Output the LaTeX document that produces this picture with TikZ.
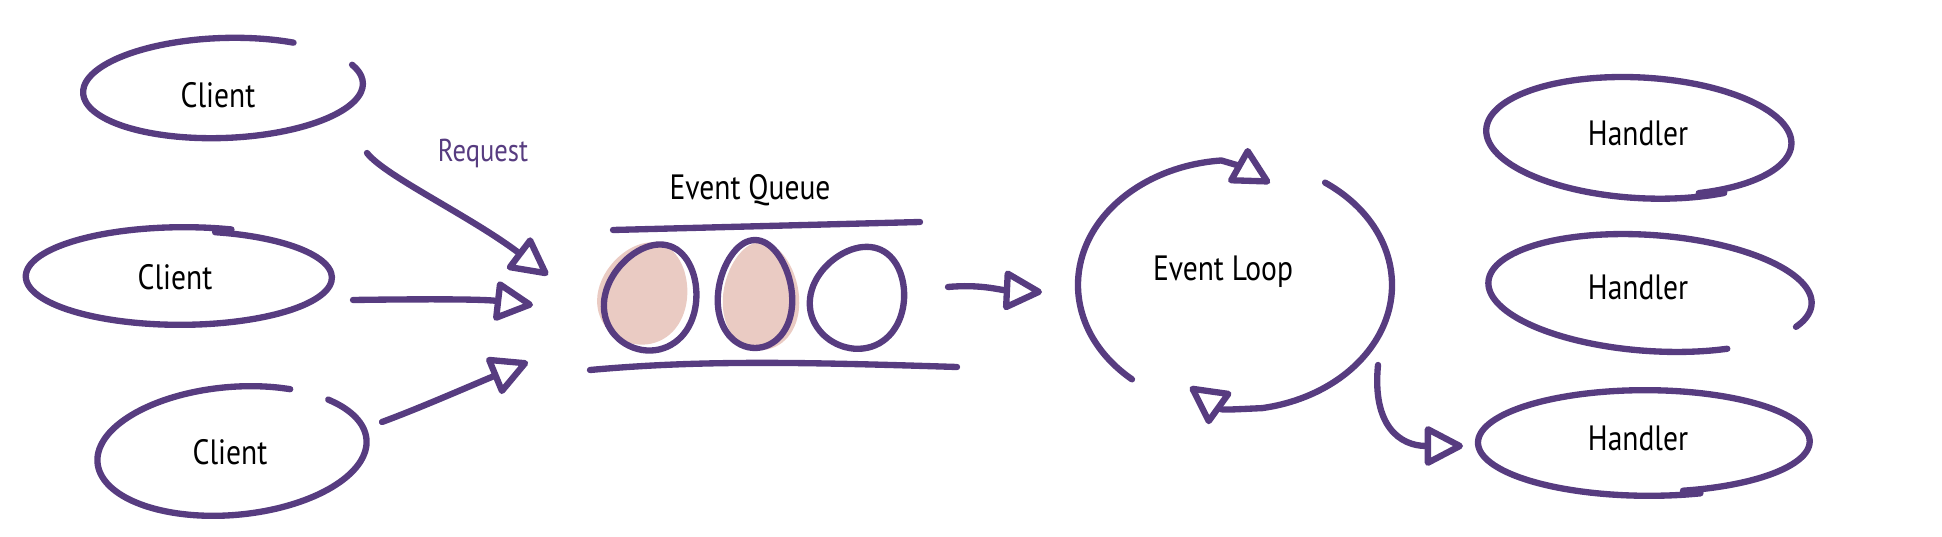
\documentclass[tikz,border=0pt]{standalone}
\usepackage{fontspec}
\setmainfont{PT Sans}[FakeStretch=0.84]
\usepackage{tikz}
\usetikzlibrary{arrows.meta, positioning, calc}
\definecolor{ink}{HTML}{573C80}
\definecolor{blush}{HTML}{EACBC3}
\tikzset{
  pen/.style={draw=ink, line width=1.8pt, line cap=round, line join=round},
  flow/.style={pen, -{Triangle[open, round, length=12pt, width=12pt]}},
  word/.style={font=\fontsize{10}{12}\selectfont, inner sep=1pt},
  tag/.style={word, text=ink, font=\fontsize{9}{11}\selectfont},
}
\newcommand{\sketchring}[7]{\draw[pen, shift={(#1)}, rotate=#7] plot[smooth, domain=#4:#4+#5, samples=72, variable=\t] ({(#2)*(1+(#6)*(\t-(#4))/(#5))*cos(\t)}, {(#3)*(1+(#6)*(\t-(#4))/(#5))*sin(\t)});}
\newcommand{\eggshape}[5]{\path[shift={(#1)}, rotate=#4, #5] plot[smooth cycle, domain=0:350, samples=36, variable=\t] ({(#2)*(1-0.12*sin(\t))*cos(\t)}, {(#3)*sin(\t)});}

\begin{document}
\begin{tikzpicture}[x=0.01cm, y=0.01cm]
\useasboundingbox (0,0) rectangle (1942,536);

\node[word] (c1) at (218,441) {Client};
\node[word] (c2) at (175,259) {Client};
\node[word] (c3) at (230,84) {Client};
\sketchring{223,448}{140}{50}{59}{323}{0}{2}
\sketchring{182,259}{160}{50}{72}{365}{-0.08}{0}
\sketchring{232,85}{135}{64}{62}{340}{0}{5}

\node[tag] (req) at (483,383) {Request};
\coordinate (c1out) at (367,383);
\coordinate (c2out) at (353,236);
\coordinate (c3out) at (382,114);
\coordinate (qin1) at (548,261);
\coordinate (qin2) at (533,231);
\coordinate (qin3) at (528,174);
\draw[flow] (c1out) .. controls (385,360) and (470,320) .. (qin1);
\draw[flow] (c2out) .. controls (420,237) and (480,237) .. (qin2);
\draw[flow] (c3out) .. controls (420,128) and (470,150) .. (qin3);

\node[word] (queue) at (750,346) {Event Queue};
\draw[pen] (613,306) -- (920,314);
\draw[pen] (590,166) .. controls (700,176) and (800,174) .. (957,169);
\eggshape{644,243}{44}{52}{-20}{fill=blush}
\eggshape{652,239}{45}{54}{-20}{pen}
\eggshape{761,240}{38}{54}{0}{fill=blush}
\eggshape{755,242}{37}{54}{0}{pen}
\eggshape{859,239}{46}{52}{-25}{pen}

\coordinate (qout) at (948,249);
\coordinate (lin) at (1042,244);
\draw[flow] (qout) .. controls (980,252) and (1000,246) .. (lin);

\node[word] (loop) at (1223,264) {Event Loop};
\coordinate (hub) at (1235,251);
\coordinate (turn1) at (1270,353);
\coordinate (turn2) at (1190,149);
\draw[flow] (hub) ++(229:157 and 125) arc[start angle=229, end angle=95, x radius=157, y radius=125] .. controls (1240,370) .. (turn1);
\draw[flow] (hub) ++(55:157 and 125) arc[start angle=55, end angle=-80, x radius=157, y radius=125] .. controls (1222,126) .. (turn2);

\node[word] (h1) at (1638,403) {Handler};
\node[word] (h2) at (1638,249) {Handler};
\node[word] (h3) at (1638,98) {Handler};
\sketchring{1641,399}{149}{58}{-66}{369}{0.06}{-3}
\sketchring{1650,243}{162}{58}{-24}{324}{0}{-4}
\sketchring{1647,94}{160}{50}{-77}{365}{0.08}{0}

\coordinate (lout) at (1378,171);
\coordinate (hin) at (1463,90);
\draw[flow] (lout) .. controls (1372,110) and (1400,90) .. (hin);
\end{tikzpicture}
\end{document}
